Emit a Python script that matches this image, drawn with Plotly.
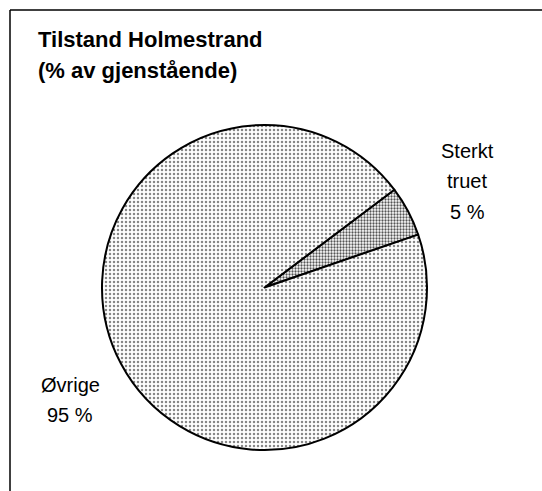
import plotly.graph_objects as go

categories = ["Sterkt truet", "Øvrige"]
values = [5, 95]
label_lines = [["Sterkt", "truet", "5 %"], ["Øvrige", "95 %"]]
title_lines = ["Tilstand Holmestrand", "(% av gjenstående)"]

W, H = 542, 491

fig = go.Figure(go.Pie(
    labels=categories,
    values=values,
    sort=False,
    direction="clockwise",
    rotation=53,
    textinfo="none",
    hoverinfo="label+percent",
    showlegend=False,
    marker=dict(
        colors=["white", "white"],
        line=dict(color="black", width=2),
        pattern=dict(
            shape=[".", "."],
            size=[3, 4],
            solidity=[0.45, 0.3],
            fgcolor=["#555555", "#888888"],
            bgcolor=["white", "white"],
        ),
    ),
    domain=dict(x=[101 / W, 428 / W], y=[(H - 450) / H, (H - 125) / H]),
))

# frame lines
fig.add_shape(type="line", xref="paper", yref="paper",
              x0=10 / W, x1=1, y0=1 - 10 / H, y1=1 - 10 / H,
              line=dict(color="black", width=1.5))
fig.add_shape(type="line", xref="paper", yref="paper",
              x0=10 / W, x1=10 / W, y0=0, y1=1 - 10 / H,
              line=dict(color="black", width=1.5))

font_family = "Liberation Sans, Arial"

for txt, yc in zip(title_lines, [39, 70]):
    fig.add_annotation(text="<b>" + txt + "</b>", xref="paper", yref="paper",
                       x=36 / W, y=1 - yc / H, xanchor="left", yanchor="middle",
                       showarrow=False,
                       font=dict(family=font_family, size=22, color="black"))

for txt, yc in zip(label_lines[0], [151, 181, 212]):
    fig.add_annotation(text=txt, xref="paper", yref="paper",
                       x=467 / W, y=1 - yc / H, xanchor="center", yanchor="middle",
                       showarrow=False,
                       font=dict(family=font_family, size=20, color="black"))

for txt, yc in zip(label_lines[1], [385, 415]):
    fig.add_annotation(text=txt, xref="paper", yref="paper",
                       x=70 / W, y=1 - yc / H, xanchor="center", yanchor="middle",
                       showarrow=False,
                       font=dict(family=font_family, size=20, color="black"))

fig.update_layout(
    width=W, height=H,
    margin=dict(l=0, r=0, t=0, b=0),
    paper_bgcolor="white",
    plot_bgcolor="white",
)

fig.write_html("out.html", config={"displayModeBar": False},
               post_script="document.body.style.margin='0';")
